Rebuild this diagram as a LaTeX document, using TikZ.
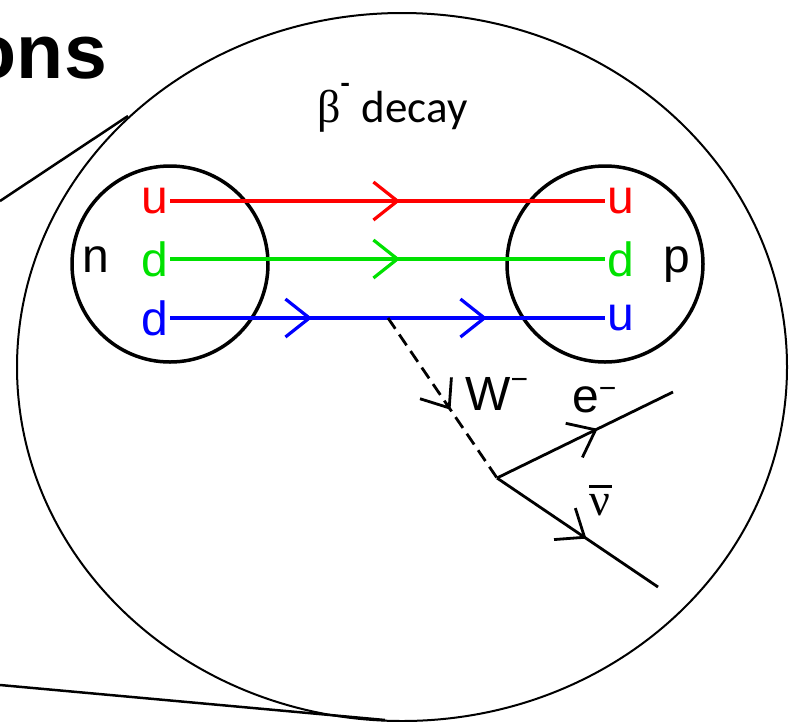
\documentclass[tikz,border=0pt]{standalone}
\usepackage{fontspec}
\setmainfont{Liberation Sans}
\newfontfamily\slidefont{Liberation Sans}
\newfontfamily\calfont{Carlito}
\newfontfamily\symfont{Liberation Serif}
\usetikzlibrary{arrows.meta,decorations.markings}
\definecolor{qred}{RGB}{255,0,0}
\definecolor{qgreen}{RGB}{0,225,0}
\definecolor{qblue}{RGB}{0,0,255}
\newcommand{\sminus}[1]{\raisebox{#1}{\fontsize{30}{30}\selectfont −}}
\tikzset{
  lbl/.style={font=\slidefont\fontsize{48}{48}\selectfont, inner sep=2pt},
  hadron/.style={circle, draw, line width=3.5pt, minimum size=196pt, inner sep=0pt},
  quark/.style={line width=3.2pt},
  boson/.style={line width=2.8pt, dash pattern=on 13pt off 7pt},
  lepton/.style={line width=2.8pt},
  fwd/.style={postaction={decorate}, decoration={markings,
    mark=at position #1 with {\arrow{Straight Barb[length=24pt,width=38pt]}}}},
  fwd two/.style 2 args={postaction={decorate}, decoration={markings,
    mark=at position #1 with {\arrow{Straight Barb[length=24pt,width=38pt]}},
    mark=at position #2 with {\arrow{Straight Barb[length=24pt,width=38pt]}}}}
}
\begin{document}
\begin{tikzpicture}[x=1pt,y=-1pt]
\useasboundingbox (0,0) rectangle (789,721);
\clip (0,0) rectangle (789,721);
% ---- zoom bubble ----
\draw[line width=2pt] (402,367) ellipse [x radius=385, y radius=354];
\draw[line width=2.5pt] (0,201) -- (128,116);
\draw[line width=2.5pt] (0,685) -- (385,720);
\node[anchor=base east, inner sep=0pt, font=\slidefont\bfseries\fontsize{77}{77}\selectfont] (title) at (107,78) {ons};
% ---- heading ----
\node[anchor=base west, inner sep=0pt] (heading) at (317,122)
  {{\symfont\fontsize{46}{46}\selectfont β}\raisebox{29pt}{\calfont\bfseries\fontsize{30}{30}\selectfont -}\hspace{12pt}{\calfont\fontsize{45}{45}\selectfont decay}};
% ---- hadrons ----
\node[hadron] (neutron) at (170,264) {};
\node[hadron] (proton) at (605,264) {};
\node[lbl, anchor=base] (nlab) at (96,272) {n};
\node[lbl, anchor=base] (plab) at (677,272) {p};
% quarks
\node[lbl, qred, anchor=east] (u1) at (170,201) {u};
\node[lbl, qgreen, anchor=east] (d1) at (170,259) {d};
\node[lbl, qblue, anchor=east] (d2) at (170,318) {d};
\node[lbl, qred, anchor=west] (u2) at (605,201) {u};
\node[lbl, qgreen, anchor=west] (d3) at (605,259) {d};
\node[lbl, qblue, anchor=west] (u3) at (605,318) {u};
\draw[quark, qred, fwd=230pt] (u1) -- (u2);
\draw[quark, qgreen, fwd=230pt] (d1) -- (d3);
\draw[quark, qblue, fwd two={142pt}{317pt}] (d2) -- (u3);
% ---- W emission and leptons ----
\coordinate (wq) at (388,318);
\coordinate (vtx) at (497,478);
\coordinate (eend) at (673,392);
\coordinate (nuend) at (658,587);
\draw[boson, fwd=111pt] (wq) -- (vtx);
\draw[lepton, fwd=112pt] (vtx) -- (eend);
\draw[lepton, fwd=108pt] (vtx) -- (nuend);
\node[lbl, anchor=base west, inner sep=0pt] (wlab) at (465,410) {W\sminus{21pt}};
\node[lbl, anchor=base west, inner sep=0pt] (elab) at (572,412) {e\sminus{14pt}};
\node[anchor=base west, inner sep=0pt] (nulab) at (589,515)
  {\symfont\fontsize{46}{46}\selectfont\rlap{\raisebox{27pt}{\rule{23pt}{3pt}}}ν};
\end{tikzpicture}
\end{document}
